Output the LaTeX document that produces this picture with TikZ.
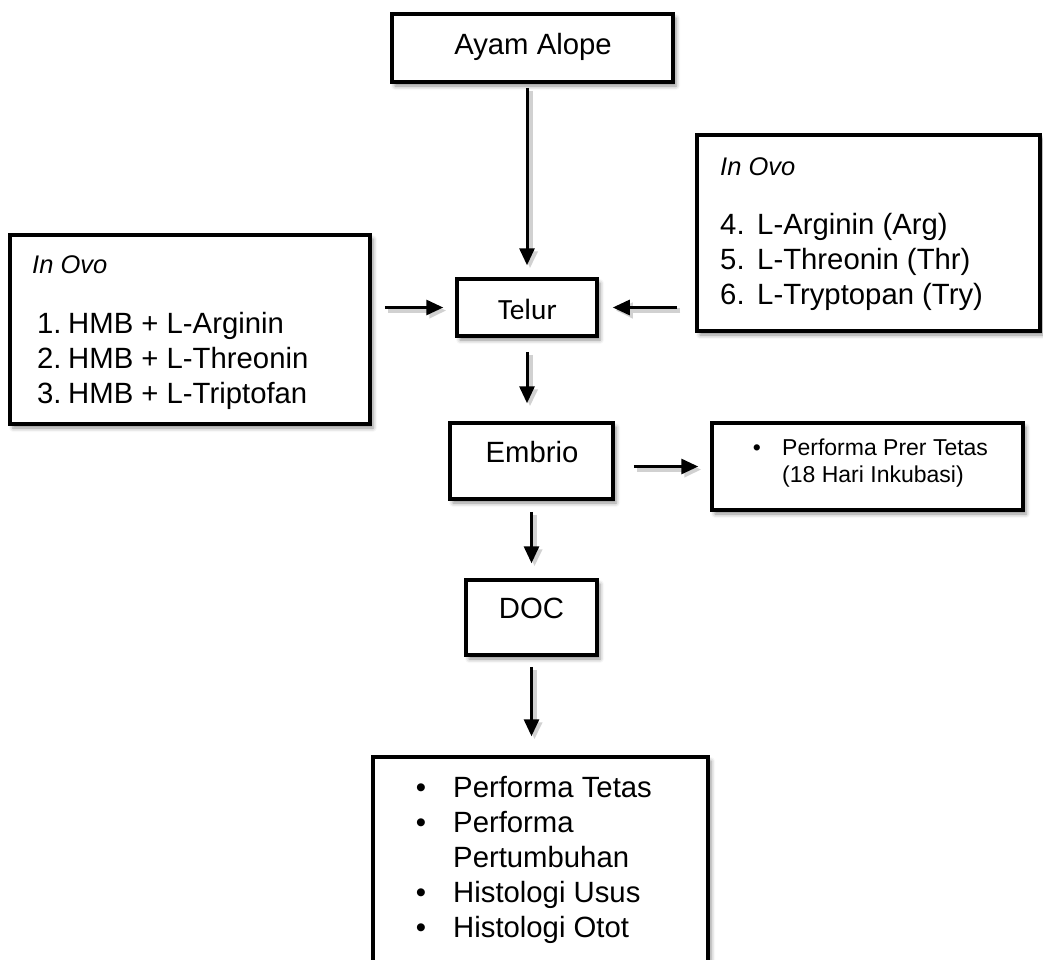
\documentclass[tikz,border=0pt]{standalone}
\usepackage{fontspec}
\setmainfont{Liberation Sans}
\newfontfamily\carlito{Carlito}
\usetikzlibrary{arrows.meta,shadows,shadows.blur}
\tikzset{
  box/.style={draw=black, line width=3.5pt, fill=white, inner sep=0pt,
    blur shadow={shadow xshift=3pt, shadow yshift=-4pt, shadow blur radius=4pt, shadow opacity=45}},
  arr/.style={line width=3pt, -{Triangle[length=17pt,width=15pt]},
    preaction={draw=black!18, line width=5pt, transform canvas={shift={(3pt,-3pt)}}}},
  bigc/.style={font=\fontsize{29.3}{35}\selectfont, inner sep=0pt, anchor=base},
  bigw/.style={font=\fontsize{29.3}{35}\selectfont, inner sep=0pt, anchor=base west},
  ital/.style={font=\fontsize{25.5}{30}\selectfont\itshape, inner sep=0pt, anchor=base west},
  smallw/.style={font=\fontsize{23}{27}\selectfont, inner sep=0pt, anchor=base west},
  smallc/.style={font=\fontsize{23}{27}\selectfont, inner sep=0pt, anchor=base},
}
\begin{document}
\begin{tikzpicture}[x=1pt,y=-1pt]
\useasboundingbox (0,0) rectangle (1043,959);
% boxes
\node[box, minimum width=281pt, minimum height=68pt] (ayam) at (532.5,48) {};
\node[box, minimum width=140pt, minimum height=57pt] (telur) at (527,307.5) {};
\node[box, minimum width=163pt, minimum height=76pt] (embrio) at (531.5,461) {};
\node[box, minimum width=131pt, minimum height=75pt] (doc) at (531.5,617.5) {};
\node[box, minimum width=335pt, minimum height=223pt] (bottom) at (540.5,868.5) {};
\node[box, minimum width=311pt, minimum height=87pt] (perf) at (867.5,466.5) {};
\node[box, minimum width=360pt, minimum height=189pt] (left) at (190,329.5) {};
\node[box, minimum width=343pt, minimum height=196pt] (right) at (868.5,233) {};
% texts
\node[bigc] (tayam) at (533,54) {Ayam Alope};
\node[anchor=base, inner sep=0pt, font=\carlito\fontsize{29.3}{35}\selectfont] (ttelur) at (527.5,319) {Telur};
\node[bigc] (tembrio) at (532,462) {Embrio};
\node[bigc] (tdoc) at (531.5,618) {DOC};
% right list
\node[ital] (rin) at (720,175) {In Ovo};
\node[bigw] (r4n) at (720,234) {4.};
\node[bigw] (r4) at (757,234) {L-Arginin (Arg)};
\node[bigw] (r5n) at (720,269) {5.};
\node[bigw] (r5) at (757,269) {L-Threonin (Thr)};
\node[bigw] (r6n) at (720,304) {6.};
\node[bigw] (r6) at (757,304) {L-Tryptopan (Try)};
% left list
\node[ital] (lin) at (32,273) {In Ovo};
\node[bigw] (l1n) at (37,333) {1.};
\node[bigw] (l1) at (68,333) {HMB + L-Arginin};
\node[bigw] (l2n) at (37,368) {2.};
\node[bigw] (l2) at (68,368) {HMB + L-Threonin};
\node[bigw] (l3n) at (37,403) {3.};
\node[bigw] (l3) at (68,403) {HMB + L-Triptofan};
% perf box
\node[smallc] (pb) at (757,455) {•};
\node[smallw] (p1) at (782,455) {Performa Prer Tetas};
\node[smallw] (p2) at (782,482) {(18 Hari Inkubasi)};
% bottom box
\node[bigc] (b1b) at (421,797) {•};
\node[bigw] (b1) at (453,797) {Performa Tetas};
\node[bigc] (b2b) at (421,832) {•};
\node[bigw] (b2) at (453,832) {Performa};
\node[bigw] (b2c) at (453,867) {Pertumbuhan};
\node[bigc] (b3b) at (421,902) {•};
\node[bigw] (b3) at (453,902) {Histologi Usus};
\node[bigc] (b4b) at (421,937) {•};
\node[bigw] (b4) at (453,937) {Histologi Otot};
% arrows
\draw[arr, shorten <=4pt, shorten >=12pt] (ayam.south -| telur.north) -- (telur.north);
\draw[arr, shorten <=13pt, shorten >=12pt] (left.east |- telur.west) -- (telur.west);
\draw[arr, shorten <=18pt, shorten >=14pt] (right.west |- telur.east) -- (telur.east);
\draw[arr, shorten <=14pt, shorten >=18pt] (telur.south) -- (telur.south |- embrio.north);
\draw[arr, shorten <=19pt, shorten >=12pt] (embrio.east |- perf.west) -- (perf.west);
\draw[arr, shorten <=11pt, shorten >=15pt] (embrio.south) -- (embrio.south |- doc.north);
\draw[arr, shorten <=10pt, shorten >=19pt] (doc.south) -- (doc.south |- bottom.north);
\end{tikzpicture}
\end{document}
